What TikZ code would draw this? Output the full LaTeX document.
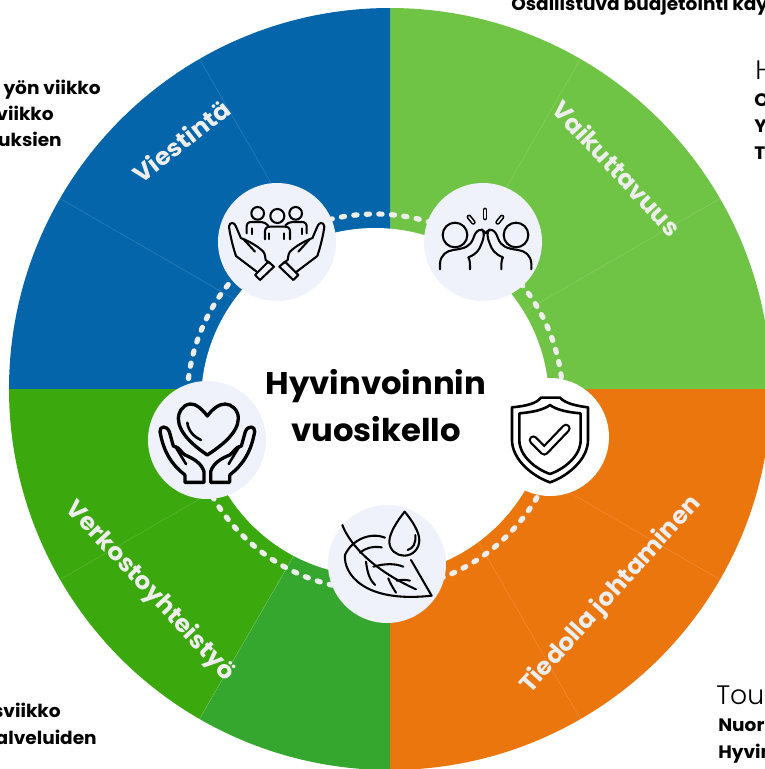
\documentclass[tikz,border=0pt]{standalone}
\usepackage{fontspec}
\setmainfont{Poppins}[BoldFont={Poppins Bold},BoldFeatures={FakeStretch=1.03}]
\newfontfamily\lightf{Poppins Light}
\definecolor{cblue}{HTML}{0465AA}
\definecolor{clight}{HTML}{70C445}
\definecolor{corange}{HTML}{EC760E}
\definecolor{cgreen}{HTML}{3BA80E}
\definecolor{cgreenb}{HTML}{36A72E}
\definecolor{cicon}{HTML}{EFF2FA}
\definecolor{cdot}{HTML}{EEEEEE}
\tikzset{
  iconcirc/.style={circle,fill=cicon,draw=none,minimum size=88.5pt,inner sep=0pt},
  zoomed/.style={x=0.25pt,y=-0.25pt},
  ink/.style={draw=black,line width=1.95pt,line cap=round,line join=round},
  inkthin/.style={draw=black,line width=1.55pt,line cap=round,line join=round},
  lab/.style={text=cdot,font=\bfseries\fontsize{18.1}{22}\selectfont,inner sep=0pt},
  side/.style={text=black,font=\bfseries\fontsize{13.5}{16}\selectfont,inner sep=0pt},
  big/.style={text=black,font=\bfseries\fontsize{23.5}{30}\selectfont,inner sep=0pt},
  thin/.style={text=black,font=\lightf\fontsize{20}{24}\selectfont,inner sep=0pt},
  sep/.style={line width=0.5pt,opacity=0.14,white},
}
\newcommand{\sector}[3]{\fill[#3] (0,0) -- (#1:381) arc[start angle=#1,end angle=#2,radius=381] -- cycle;}
\begin{document}
\begin{tikzpicture}[x=0.75pt,y=-0.75pt]
\useasboundingbox (0,0) rectangle (765,769);
\clip (0,0) rectangle (765,769);
% wheel
\begin{scope}[shift={(390,389)},y=0.75pt]
  \sector{0}{90}{clight}
  \sector{90}{180}{cblue}
  \sector{180}{240}{cgreen}
  \sector{240}{270}{cgreenb}
  \sector{270}{360}{corange}
  \foreach \a in {30,60,120,150,210,240,300,330} \draw[sep] (\a:100) -- (\a:381);
\end{scope}
% white hub and dots
\node[circle,fill=white,minimum size=261pt,inner sep=0pt] (hub) at (375,402) {};
\draw[cdot,line width=3.9pt,line cap=round,dash pattern=on 2.4pt off 7pt] (375,402) circle[radius=188];
% icon discs
\node[iconcirc] (d1) at (277,242) {};
\node[iconcirc] (d2) at (483,242) {};
\node[iconcirc,fill=white] (d3) at (550,437) {};
\node[iconcirc] (d4) at (387,564) {};
\node[iconcirc] (d5) at (207,440) {};
% people in hands
\begin{scope}[shift={(200,170)},zoomed]
  \draw[inkthin] (173,130) circle[radius=19] (287,130) circle[radius=19];
  \draw[inkthin] (232,138) circle[radius=21];
  \draw[inkthin] (140,190) -- (140,170) .. controls (140,160) and (145,156) .. (155,156) -- (183,156) .. controls (192,156) and (198,160) .. (204,166);
  \draw[inkthin] (320,190) -- (320,170) .. controls (320,160) and (315,156) .. (305,156) -- (277,156) .. controls (268,156) and (262,160) .. (256,166);
  \draw[inkthin] (195,208) -- (195,185) .. controls (195,175) and (200,170) .. (210,170) -- (255,170) .. controls (265,170) and (270,175) .. (270,185) -- (270,208);
  \draw[inkthin] (207,190) -- (207,207) (253,190) -- (253,207) (155,175) -- (155,192) (305,175) -- (305,192);
  \foreach \sx/\ox in {1/0,-1/460}{
    \begin{scope}[shift={(\ox,0)},xscale=\sx]
      \draw[inkthin] (123,205) -- (108,170) .. controls (104,155) and (88,155) .. (87,170) .. controls (90,195) and (100,235) .. (108,258) -- (170,305);
      \draw[inkthin] (125,205) .. controls (150,215) and (175,230) .. (190,245) .. controls (197,255) and (195,265) .. (197,270) -- (210,280);
      \draw[inkthin] (130,207) -- (165,245);
      \draw[inkthin] (205,275) -- (222,290) -- (180,330) -- (165,315) -- cycle;
    \end{scope}
  }
\end{scope}
% high five
\begin{scope}[shift={(410,180)},zoomed]
  \draw[inkthin] (135,165) circle[radius=37] (318,165) circle[radius=37];
  \foreach \xa/\ya/\xb/\yb in {225/90/225/114,177/111/190/127,276/111/263/127}{
    \draw[black,line width=3.6pt,line cap=round] (\xa,\ya) -- (\xb,\yb);
    \draw[cicon,line width=1.2pt,line cap=round] (\xa,\ya) -- (\xb,\yb);
  }
  \foreach \sx/\ox in {1/0,-1/454}{
    \begin{scope}[shift={(\ox,0)},xscale=\sx]
      \draw[inkthin] (90,268) -- (90,250) .. controls (92,225) and (110,212) .. (130,210) .. controls (165,205) and (180,200) .. (190,175) .. controls (197,150) and (215,140) .. (227,160);
      \draw[inkthin] (215,148) .. controls (225,155) and (222,175) .. (215,190) .. controls (208,210) and (200,222) .. (175,232) .. controls (180,240) and (180,250) .. (180,268);
    \end{scope}
  }
\end{scope}
% shield
\begin{scope}[shift={(310,370)},zoomed]
  \draw[ink] (606,112) .. controls (650,108) and (680,100) .. (693,83) -- (750,83) .. controls (765,100) and (800,108) .. (834,112) -- (834,210) .. controls (834,270) and (770,320) .. (720,337) .. controls (670,320) and (606,270) .. (606,210) -- cycle;
  \draw[ink] (628,130) .. controls (665,127) and (700,120) .. (720,105) .. controls (740,120) and (775,127) .. (812,130) -- (812,210) .. controls (812,260) and (760,298) .. (720,312) .. controls (680,298) and (628,260) .. (628,210) -- cycle;
  \draw[black,line width=7pt,line cap=round,line join=round] (670,210) -- (703,243) -- (768,175);
  \draw[white,line width=3.6pt,line cap=round,line join=round] (670,210) -- (703,243) -- (768,175);
\end{scope}
% leaf and drop
\begin{scope}[shift={(310,370)},zoomed]
  \draw[inkthin] (284,425) .. controls (260,455) and (238,490) .. (238,515) .. controls (238,540) and (260,557) .. (282,557) .. controls (310,557) and (328,535) .. (328,510) .. controls (328,485) and (305,450) .. (284,425) -- cycle;
  \draw[inkthin] (316,495) .. controls (318,520) and (310,535) .. (293,540);
  \draw[inkthin] (97,465) .. controls (120,525) and (190,600) .. (318,658);
  \draw[inkthin] (225,503) .. controls (180,485) and (125,510) .. (105,555) .. controls (100,610) and (160,700) .. (365,677) -- (303,570);
  \draw[inkthin] (215,532) .. controls (185,528) and (165,535) .. (150,548);
  \draw[inkthin] (168,575) .. controls (172,610) and (180,630) .. (195,645);
  \draw[inkthin] (190,590) .. controls (225,580) and (255,580) .. (280,590);
  \draw[inkthin] (235,625) .. controls (240,640) and (250,655) .. (258,668);
  \draw[inkthin] (260,632) .. controls (280,628) and (290,630) .. (300,632);
\end{scope}
% heart in hands
\begin{scope}[shift={(130,360)},zoomed]
  \draw[ink,line width=2.5pt] (232,168) .. controls (215,145) and (195,130) .. (180,132) .. controls (155,135) and (145,160) .. (145,175) .. controls (145,220) and (195,260) .. (232,285) .. controls (270,260) and (325,220) .. (325,175) .. controls (325,150) and (305,132) .. (285,132) .. controls (265,132) and (245,150) .. (232,168) -- cycle;
  \draw[ink] (172,188) .. controls (175,215) and (195,232) .. (213,240);
  \foreach \sx/\ox in {1/0,-1/464}{
    \begin{scope}[shift={(\ox,0)},xscale=\sx]
      \draw[ink,line width=2.5pt] (165,345) .. controls (120,310) and (100,270) .. (90,215) .. controls (88,198) and (110,195) .. (118,215) -- (130,258) .. controls (150,262) and (150,275) .. (165,285) .. controls (190,295) and (215,310) .. (222,335) -- (222,367) -- (165,367) -- (165,345);
      \draw[ink] (135,258) -- (168,312);
    \end{scope}
  }
\end{scope}
% title
\node[big] (t1) at (376,386) {Hyvinvoinnin};
\node[big] (t2) at (376,429) {vuosikello};
% ring labels
\node[lab,rotate=38] (l1) at (181,141) {Viestintä};
\node[lab,rotate=-47] (l2) at (617,168) {Vaikuttavuus};
\node[lab,rotate=-47] (l3) at (150,591) {Verkostoyhteistyö};
\node[lab,rotate=48] (l4) at (611,595) {Tiedolla johtaminen};
% clipped side texts
\node[side,anchor=base east] (s1) at (101,94) {yön viikko};
\node[side,anchor=base east] (s2) at (54,120) {viikko};
\node[side,anchor=base east] (s3) at (62,146) {uksien};
\node[side,anchor=base west] (s4) at (511,10) {Osallistuva budjetointi kay};
\node[thin,anchor=base west] (s5) at (755,79) {H};
\node[side,anchor=base west] (s6) at (754,106) {O};
\node[side,anchor=base west] (s7) at (754,132) {Y};
\node[side,anchor=base west] (s8) at (754,159) {T};
\node[side,anchor=base east] (s9) at (61,717) {sviikko};
\node[side,anchor=base east] (s10) at (97,744) {alveluiden};
\node[thin,anchor=base west] (s11) at (716,704) {Tou};
\node[side,anchor=base west] (s12) at (718,731) {Nuor};
\node[side,anchor=base west] (s13) at (718,758) {Hyvin};
\end{tikzpicture}
\end{document}
